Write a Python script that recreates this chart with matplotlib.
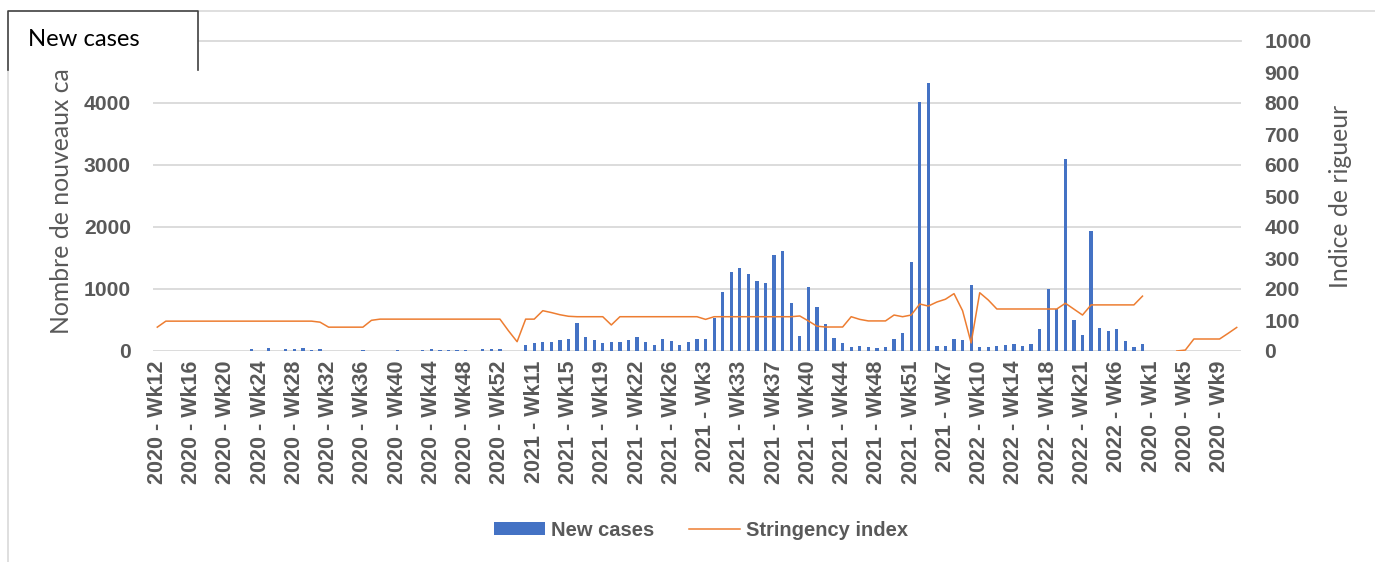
import numpy as np
import matplotlib.pyplot as plt
from matplotlib.lines import Line2D
from matplotlib.patches import Rectangle

# every 4th week is labelled on the x axis
tick_labels = [
    "2020 - Wk12", "2020 - Wk16", "2020 - Wk20", "2020 - Wk24", "2020 - Wk28",
    "2020 - Wk32", "2020 - Wk36", "2020 - Wk40", "2020 - Wk44", "2020 - Wk48",
    "2020 - Wk52", "2021 - Wk11", "2021 - Wk15", "2021 - Wk19", "2021 - Wk22",
    "2021 - Wk26", "2021 - Wk3", "2021 - Wk33", "2021 - Wk37", "2021 - Wk40",
    "2021 - Wk44", "2021 - Wk48", "2021 - Wk51", "2021 - Wk7", "2022 - Wk10",
    "2022 - Wk14", "2022 - Wk18", "2022 - Wk21", "2022 - Wk6", "2020 - Wk1",
    "2020 - Wk5", "2020 - Wk9",
]

new_cases = [
    0, 0, 0, 0, 0, 0, 0, 0, 8, 0,
    0, 27, 8, 43, 0, 38, 38, 54, 10, 27,
    8, 0, 5, 0, 16, 5, 0, 5, 21, 0,
    5, 10, 27, 16, 10, 16, 21, 5, 27, 27,
    32, 0, 0, 91, 129, 140, 140, 183, 188, 451,
    231, 172, 129, 150, 140, 172, 226, 140, 97, 199,
    166, 91, 145, 188, 188, 531, 945, 1277, 1331, 1235,
    1122, 1095, 1551, 1616, 778, 236, 1036, 714, 440, 215,
    123, 70, 81, 70, 43, 70, 186, 290, 1439, 4015,
    4321, 75, 86, 199, 172, 1057, 64, 70, 81, 102,
    107, 75, 107, 362, 1004, 685, 3103, 497, 255, 1932,
    378, 327, 351, 156, 72, 113, 0, 0, 0, 0,
    0, 0, 0, 0, 0, 0, 0,
]

nan = np.nan
stringency = [
    76.9, 96.3, 96.3, 96.3, 96.3, 96.3, 96.3, 96.3, 96.3, 96.3,
    96.3, 96.3, 96.3, 96.3, 96.3, 96.3, 96.3, 96.3, 96.3, 93.0,
    76.9, 76.9, 76.9, 76.9, 76.9, 99.0, 102.8, 102.8, 102.8, 102.8,
    102.8, 102.8, 102.8, 102.8, 102.8, 102.8, 102.8, 102.8, 102.8, 102.8,
    102.8, 65.0, 30.0, 102.8, 102.8, 130.0, 124.0, 117.0, 112.0, 110.6,
    110.6, 110.6, 110.6, 84.0, 110.6, 110.6, 110.6, 110.6, 110.6, 110.6,
    110.6, 110.6, 110.6, 110.6, 102.0, 110.6, 110.6, 110.6, 110.6, 110.6,
    110.6, 110.6, 110.6, 110.6, 110.6, 113.0, 97.0, 80.0, 77.4, 77.4,
    77.4, 110.6, 102.0, 97.0, 97.0, 97.0, 116.0, 110.6, 116.0, 151.6,
    145.0, 158.0, 167.0, 185.0, 130.0, 26.0, 188.0, 164.5, 135.5, 135.5,
    135.5, 135.5, 135.5, 135.5, 135.5, 135.5, 154.0, 135.0, 116.0, 148.7,
    148.7, 148.7, 148.7, 148.7, 148.7, 177.0, nan, nan, nan, 0.0,
    3.0, 38.7, 38.7, 38.7, 38.7, 57.0, 76.0,
]


def main():
    plt.rcParams['font.family'] = ['Lato', 'DejaVu Sans']
    bold_font = ['Liberation Sans', 'DejaVu Sans']
    W, H = 1375, 562
    fig = plt.figure(figsize=(W / 100, H / 100), dpi=100)
    ax = fig.add_axes([153 / W, 1 - 351 / H, 1088 / W, 310 / H])

    grey = '#595959'
    x = np.arange(len(new_cases))
    bars = ax.bar(x, new_cases, width=0.38, color='#4472C4', zorder=2)
    ax.set_xlim(-0.5, len(new_cases) - 0.5)
    ax.set_ylim(0, 5000)
    # the 5000 label sits behind the field button, so only 0-4000 are labelled
    ax.set_yticks(range(0, 4001, 1000))
    ax.grid(axis='y', color='#D9D9D9', linewidth=1.3, zorder=0)
    ax.axhline(5000, color='#D9D9D9', linewidth=1.3, zorder=0, clip_on=False)
    ax.set_axisbelow(True)
    ax.set_xticks(x[::4])
    ax.set_xticklabels(tick_labels, rotation=90, fontsize=15.5,
                       fontweight='bold', family=bold_font, color=grey)
    ax.tick_params(axis='x', length=0, pad=7)
    ax.tick_params(axis='y', length=0, pad=16, labelcolor=grey)
    for lab in ax.get_yticklabels():
        lab.set_fontweight('bold')
        lab.set_family(bold_font)
        lab.set_fontsize(15.2)
    for s in ax.spines.values():
        s.set_visible(False)

    ax2 = ax.twinx()
    line, = ax2.plot(x, stringency, color='#ED7D31', linewidth=1.1)
    ax2.set_ylim(0, 1000)
    ax2.set_yticks(range(0, 1001, 100))
    ax2.tick_params(axis='y', length=0, pad=17, labelcolor=grey)
    for lab in ax2.get_yticklabels():
        lab.set_fontweight('bold')
        lab.set_family(bold_font)
        lab.set_fontsize(15.2)
    for s in ax2.spines.values():
        s.set_visible(False)

    fig.text(62 / W, 1 - 201 / H, "Nombre de nouveaux ca", rotation=90,
             ha='center', va='center', fontsize=17.8, color=grey)
    fig.text(1340 / W, 1 - 196 / H, "Indice de rigueur", rotation=90,
             ha='center', va='center', fontsize=17.8, color=grey)

    # chart border and the field button in the top-left corner
    border = '#D9D9D9'
    fig.add_artist(Line2D([198 / W, 1], [1 - 11 / H, 1 - 11 / H],
                          color=border, linewidth=1.2))
    fig.add_artist(Line2D([8 / W, 8 / W], [0, 1 - 70 / H],
                          color=border, linewidth=1.2))
    fig.add_artist(Rectangle((8 / W, 1 - 70 / H), 190 / W, 59 / H,
                             facecolor='white', edgecolor='none', zorder=5))
    edge = '#404040'
    fig.add_artist(Line2D([8 / W, 8 / W, 198 / W, 198 / W],
                          [1 - 70 / H, 1 - 11 / H, 1 - 11 / H, 1 - 70 / H],
                          color=edge, linewidth=1.2, zorder=6))
    fig.text(28 / W, 1 - 40 / H, "New cases", ha='left', va='center',
             fontsize=17.2, color='black', zorder=7)

    leg = fig.legend([bars, line], ["New cases", "Stringency index"],
                     loc='center', bbox_to_anchor=(701 / W, 1 - 530 / H),
                     ncol=2, frameon=False,
                     prop={'family': bold_font, 'weight': 'bold', 'size': 14.5},
                     handlelength=2.55, handleheight=0.65, handletextpad=0.3,
                     columnspacing=1.7)
    for t in leg.get_texts():
        t.set_color(grey)

    fig.savefig("out.png", dpi=100)


if __name__ == "__main__":
    main()
